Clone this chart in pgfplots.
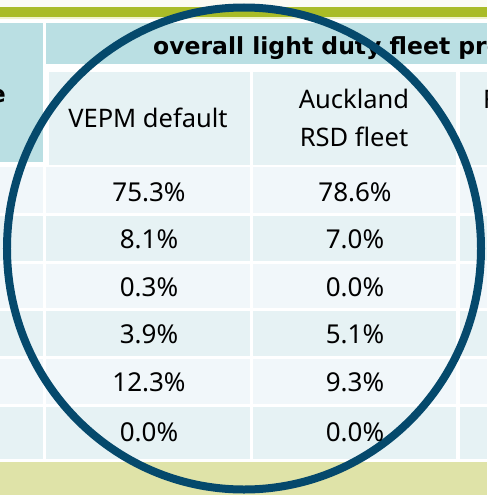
\documentclass[border=0pt]{standalone}
\usepackage{fontspec}
\setmainfont{Noto Sans}
\newfontfamily\headfont{DejaVu Sans}
\usepackage{pgfplots}
\usepackage{pgfplotstable}
\pgfplotsset{compat=1.18}

\definecolor{cream}{HTML}{FBFBF3}
\definecolor{olive}{HTML}{A9BC27}
\definecolor{oliveline}{HTML}{F0F3CD}
\definecolor{paleolive}{HTML}{DFE3A8}
\definecolor{headteal}{HTML}{BADFE3}
\definecolor{cellA}{HTML}{F1F7FA}
\definecolor{cellB}{HTML}{E6F2F4}
\definecolor{ring}{HTML}{05496C}

% cell texts: x centre, baseline y (pixels from top), value in %
\pgfplotstableread{
x   y     val
149 201.5 75.3
149 248.5 8.1
149 296   0.3
149 343.5 3.9
149 391   12.3
149 441.5 0.0
355 201.5 78.6
355 248.5 7.0
355 296   0.0
355 343.5 5.1
355 391   9.3
355 441.5 0.0
}\shares

\newcommand{\tablerow}[3]{%
  \fill[#3] (axis cs:0,#1) rectangle (axis cs:43.5,#2);
  \fill[#3] (axis cs:46.5,#1) rectangle (axis cs:250,#2);
  \fill[#3] (axis cs:253,#1) rectangle (axis cs:456,#2);
  \fill[#3] (axis cs:459.5,#1) rectangle (axis cs:487,#2);
}

\begin{document}
\begin{tikzpicture}
\begin{axis}[
    width=487pt, height=495pt, scale only axis,
    xmin=0, xmax=487, ymin=0, ymax=495, y dir=reverse,
    hide axis, clip=false,
]
% page background
\fill[white] (axis cs:0,0) rectangle (axis cs:487,495);
\fill[cream] (axis cs:0,0) rectangle (axis cs:487,7);
\fill[olive] (axis cs:0,7) rectangle (axis cs:487,17);
\fill[oliveline] (axis cs:0,17) rectangle (axis cs:487,19.5);
% header cells
\fill[headteal] (axis cs:0,23) rectangle (axis cs:43,162);
\fill[headteal] (axis cs:46,23) rectangle (axis cs:487,64);
\fill[cellB] (axis cs:49,72) rectangle (axis cs:250,165);
\fill[cellB] (axis cs:253,72) rectangle (axis cs:456,165);
\fill[cellB] (axis cs:460,72) rectangle (axis cs:487,165);
% body rows
\tablerow{167}{213}{cellA}
\tablerow{215.5}{261}{cellB}
\tablerow{263.5}{308}{cellA}
\tablerow{310.5}{356}{cellB}
\tablerow{358.5}{404}{cellA}
\tablerow{407}{459}{cellB}
\fill[paleolive] (axis cs:0,461.5) rectangle (axis cs:487,495);

% header texts
\node[anchor=base east, inner sep=0pt, font=\fontsize{23.5}{28}\selectfont\headfont\bfseries] at (axis cs:6,102) {Vehicle type};
\node[anchor=base west, inner sep=0pt, font=\fontsize{23.5}{28}\selectfont\headfont\bfseries] at (axis cs:153,55) {overall light duty fleet proportions};
\node[anchor=base, font=\fontsize{25.5}{30}\selectfont] at (axis cs:148,127) {VEPM default};
\node[anchor=base, font=\fontsize{25.5}{30}\selectfont] at (axis cs:354,108) {Auckland};
\node[anchor=base, font=\fontsize{25.5}{30}\selectfont] at (axis cs:354,146) {RSD fleet};
\node[anchor=base west, inner sep=0pt, font=\fontsize{25.5}{30}\selectfont] at (axis cs:483,108) {Fleet};

% cell values
\addplot[only marks, mark=none, point meta=explicit symbolic,
  nodes near coords={\pgfplotspointmeta\%},
  nodes near coords style={anchor=base, inner sep=0pt, font=\fontsize{26}{30}\selectfont, text=black}]
  table[x=x, y=y, meta=val] {\shares};

% highlight ring
\draw[ring, line width=8pt] (axis cs:244,248.5) ellipse [x radius=237pt, y radius=241pt];
\end{axis}
\pgfresetboundingbox
\path[use as bounding box] (current axis.south west) rectangle (current axis.north east);
\end{tikzpicture}
\end{document}
